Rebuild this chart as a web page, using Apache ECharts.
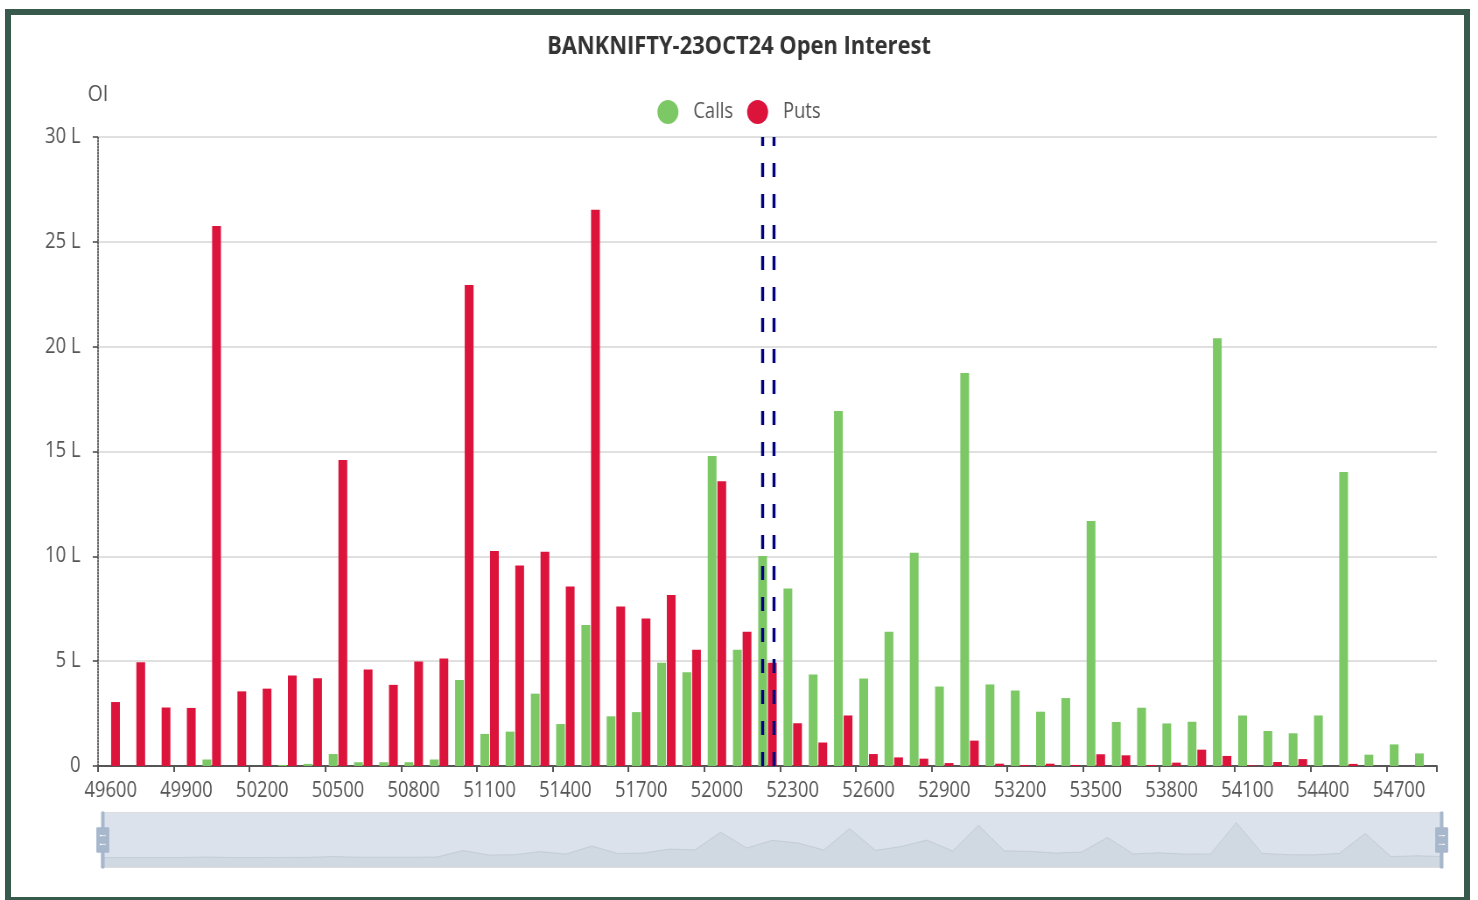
<!DOCTYPE html>
<html>
<head>
<meta charset="utf-8">
<script src="https://cdn.jsdelivr.net/npm/echarts@6/dist/echarts.min.js"></script>
<style>
html,body{margin:0;padding:0;background:#fff;width:1478px;height:900px;overflow:hidden;}
#wrap{position:absolute;left:0;top:0;width:1689px;height:900px;transform:scaleX(0.87507);transform-origin:0 0;}
#chart{width:1689px;height:900px;}
#frame{position:absolute;left:5px;top:9px;width:1465px;height:894px;border:6px solid #375a4c;box-sizing:border-box;pointer-events:none;}
</style>
</head>
<body>
<div id="wrap"><div id="chart"></div></div>
<div id="frame"></div>
<script>
const chartTitle = 'BANKNIFTY-23OCT24 Open Interest';
const strikes = ['49600','49700','49800','49900','50000','50100','50200','50300','50400','50500',
  '50600','50700','50800','50900','51000','51100','51200','51300','51400','51500',
  '51600','51700','51800','51900','52000','52100','52200','52300','52400','52500',
  '52600','52700','52800','52900','53000','53100','53200','53300','53400','53500',
  '53600','53700','53800','53900','54000','54100','54200','54300','54400','54500',
  '54600','54700','54800'];
// Open interest in lakhs
const calls = [0,0,0,0,0.31,0,0,0.05,0.1,0.57,
  0.18,0.18,0.18,0.31,4.1,1.53,1.64,3.45,2.0,6.73,
  2.37,2.57,4.93,4.47,14.78,5.55,10.02,8.47,4.37,16.93,
  4.17,6.4,10.17,3.79,18.75,3.89,3.6,2.59,3.24,11.68,
  2.1,2.78,2.03,2.11,20.4,2.41,1.67,1.56,2.41,14.02,
  0.54,1.03,0.6];
const puts = [3.05,4.95,2.79,2.77,25.75,3.56,3.69,4.32,4.18,14.6,
  4.6,3.87,4.98,5.13,22.94,10.26,9.56,10.22,8.56,26.53,
  7.61,7.04,8.16,5.55,13.58,6.4,4.93,2.04,1.12,2.41,
  0.57,0.41,0.35,0.14,1.21,0.11,0.05,0.11,0.05,0.56,
  0.51,0.05,0.16,0.78,0.48,0.03,0.19,0.33,0,0.1,
  0,0,0];
// Spot / futures reference levels (strike units)
const refLevels = [52180, 52225];
const yTicks = [0, 5, 10, 15, 20, 25, 30];

const FONT = '"Open Sans", "Noto Sans", sans-serif';
const HANDLE = 'path://M8.2,13.6V3.9H6.3v9.7H3.1v14.9h3.3v9.7h1.8v-9.7h3.3V13.6H8.2z M9.7,24.4H4.8v-1.4h4.9V24.4z M9.7,19.1H4.8v-1.4h4.9V19.1z';
const chart = echarts.init(document.getElementById('chart'), null, {renderer:'canvas'});
chart.setOption({
  animation: false,
  backgroundColor: '#ffffff',
  textStyle: {fontFamily: FONT},
  title: {
    text: chartTitle, left: 'center', top: 29,
    textStyle: {fontFamily: FONT, fontSize: 25, fontWeight: 'bold', color: '#333'}
  },
  legend: {
    data: ['Calls', 'Puts'], left: 'center', top: 95,
    icon: 'circle', itemWidth: 24, itemHeight: 24, itemGap: 16,
    textStyle: {fontFamily: FONT, fontSize: 21, color: '#555', padding: [0,0,0,12]}
  },
  grid: {left: 112, right: 47, top: 137, bottom: 134, containLabel: false},
  xAxis: [{
    type: 'category', data: strikes,
    axisLine: {lineStyle: {color: '#555', width: 2}},
    axisTick: {show: true, lineStyle: {color: '#555', width: 2}, length: 6},
    axisLabel: {fontFamily: FONT, fontSize: 21, color: '#555', margin: 15, interval: 2},
    splitLine: {show: false}
  }, {
    type: 'value', min: 49550, max: 54850, show: false
  }],
  yAxis: {
    type: 'value', min: yTicks[0], max: yTicks[yTicks.length-1], interval: 5,
    name: 'OI', nameLocation: 'end', nameGap: 31,
    nameTextStyle: {fontFamily: FONT, fontSize: 22, color: '#555', align: 'center'},
    axisLine: {show: true, lineStyle: {color: '#333', width: 1.5, type: 'dotted'}},
    axisTick: {show: true, length: 6, lineStyle: {color: '#444', width: 1.5}},
    axisLabel: {fontFamily: FONT, fontSize: 21, color: '#555', margin: 20,
      formatter: v => v === 0 ? '0' : v + ' L'},
    splitLine: {show: true, lineStyle: {color: '#d6d6d6', width: 1.5}}
  },
  dataZoom: [{
    type: 'slider', xAxisIndex: 0, start: 0, end: 100,
    left: 114, right: 43, top: 812, height: 56,
    showMoveHandle: false, moveHandleSize: 0, brushSelect: false,
    backgroundColor: 'rgba(47,69,84,0)',
    borderColor: '#dddddd',
    fillerColor: 'rgba(167,183,204,0.4)',
    dataBackground: {
      lineStyle: {color: '#2f4554', width: 0.5, opacity: 0.3},
      areaStyle: {color: 'rgba(47,69,84,0.3)', opacity: 0.3}
    },
    selectedDataBackground: {
      lineStyle: {color: '#2f4554', width: 0.5, opacity: 0.3},
      areaStyle: {color: 'rgba(47,69,84,0.3)', opacity: 0.3}
    },
    handleIcon: HANDLE, handleSize: '100%',
    handleStyle: {color: '#a7b7cc', borderColor: '#a7b7cc'},
    textStyle: {color: '#333'}
  }],
  series: [{
    name: 'Calls', type: 'bar', data: calls, xAxisIndex: 0,
    itemStyle: {color: '#7cc865'}, emphasis: {disabled: true}
  }, {
    name: 'Puts', type: 'bar', data: puts, xAxisIndex: 0,
    itemStyle: {color: '#dc143c'}, emphasis: {disabled: true}
  }, {
    name: 'ref', type: 'line', xAxisIndex: 1, yAxisIndex: 0, data: [], silent: true,
    markLine: {
      symbol: 'none', silent: true, animation: false,
      label: {show: false},
      lineStyle: {color: '#000080', width: 3.4, type: [14, 17]},
      data: refLevels.map(v => ({xAxis: v}))
    }
  }]
});
</script>
</body>
</html>
